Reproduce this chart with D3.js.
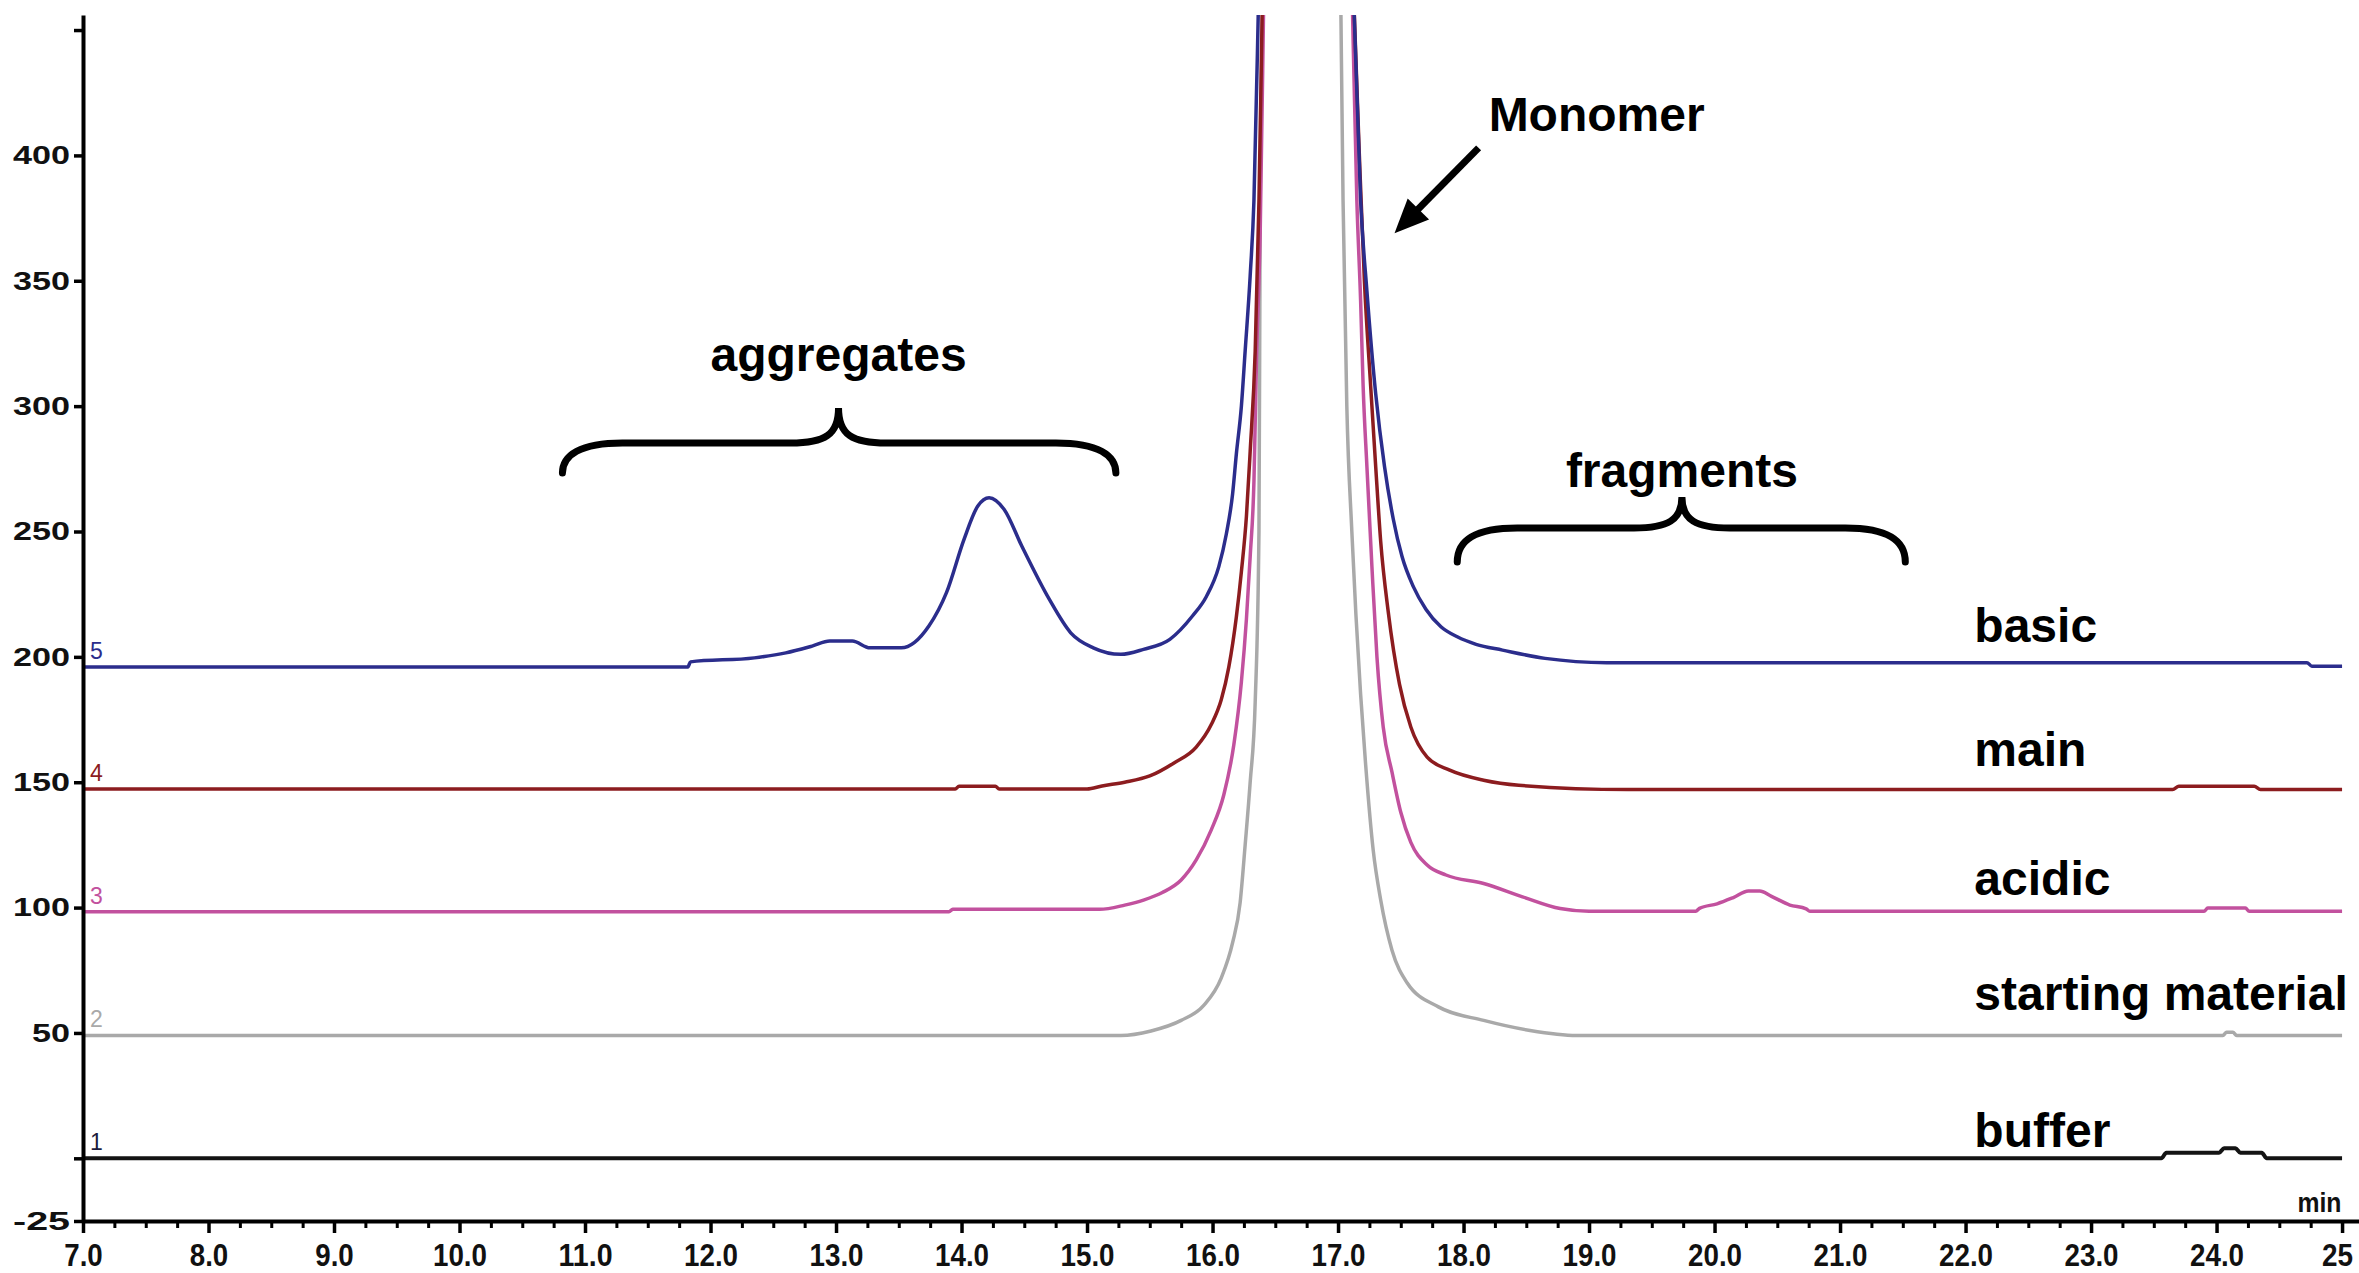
<!DOCTYPE html>
<html>
<head>
<meta charset="utf-8">
<script src="https://cdn.jsdelivr.net/npm/d3@7"></script>
<style>
  body { margin: 0; background: #fff; }
  text { font-family: "Liberation Sans", Arial, sans-serif; }
</style>
</head>
<body>
<div id="container"></div>
<script>
const width = 2359, height = 1273;

// chromatogram traces, [retention time (min), signal]
const buffer = [[7,0],[23.56,0],[23.6,2.2],[24.02,2.2],[24.06,4],[24.15,4],[24.19,2.2],[24.36,2.2],[24.4,0],[25,0]];

const startingMaterial = [[7,49],[15.27,49],[15.51,50.8],[15.75,55],[15.93,61],[16.07,72],[16.16,86],[16.22,102],[16.26,125],[16.30,150],
    [16.34,182],[16.37,250],[16.38,382],[16.40,470],[16.71,1500],[17.02,470],[17.04,382],[17.07,300],[17.11,250],[17.18,185],[17.22,157],
    [17.28,123],[17.34,103],[17.43,83],[17.55,70],[17.80,60.4],[18.16,55],[18.53,51],[18.9,49],[24.05,49],[24.08,50.3],[24.13,50.3],[24.16,49],[25,49]];

const acidic = [[7,98.3],[13.9,98.3],[13.93,99.3],[15.1,99.3],[15.3,101],[15.45,103],[15.6,106],[15.75,111],[15.87,119],[15.99,131],[16.09,145],
    [16.17,165],[16.23,190],[16.27,215],[16.30,240],[16.33,270],[16.35,318],[16.38,370],[16.41,470],[16.76,1500],[17.11,470],[17.15,382],
    [17.18,342],[17.20,308],[17.23,276],[17.27,236],[17.31,200],[17.36,172],[17.43,154],[17.50,138],[17.58,126],[17.71,117],[17.86,113],
    [18.16,109.6],[18.47,104.3],[18.77,99.6],[19.0,98.5],[19.85,98.5],[19.88,99.7],[20.02,101.5],[20.15,104],[20.27,106.6],[20.36,106.6],
    [20.45,104.6],[20.6,101],[20.73,99.5],[20.76,98.5],[23.9,98.5],[23.93,99.8],[24.23,99.8],[24.26,98.5],[25,98.5]];

const main = [[7,147.3],[13.95,147.3],[13.98,148.4],[14.27,148.4],[14.3,147.3],[15.0,147.3],[15.12,148.5],[15.3,150],[15.5,152.5],[15.69,157.6],
    [15.87,164],[15.99,173],[16.07,183],[16.13,196],[16.19,216],[16.23,234],[16.27,256],[16.30,282],[16.34,322],[16.37,382],[16.40,470],
    [16.76,1500],[17.12,470],[17.17,400],[17.21,350],[17.26,308],[17.30,276],[17.34,246],[17.40,218],[17.49,189],[17.58,172],[17.71,160],
    [17.89,154.8],[18.16,150.8],[18.44,148.8],[19.31,147.1],[23.65,147.1],[23.7,148.4],[24.3,148.4],[24.35,147.1],[25,147.1]];

const basic = [[7,196],[11.82,196],[11.84,198],[12.35,199.6],[12.6,201.6],[12.81,204.3],[12.95,206.3],[13.13,206.3],[13.27,203.6],[13.52,203.6],
    [13.74,212.3],[13.88,225.6],[14.02,246.9],[14.13,260.2],[14.22,263.5],[14.34,258.8],[14.48,244.2],[14.7,222.9],[14.87,209.6],[15.05,203.6],
    [15.27,201],[15.45,203],[15.66,207],[15.84,216.3],[15.95,224],[16.05,236],[16.11,249],[16.16,265],[16.19,281],[16.23,300],[16.26,322],
    [16.30,352],[16.33,382],[16.37,470],[16.75,1500],[17.12,470],[17.18,382],[17.23,346],[17.30,305],[17.37,276],[17.44,255],[17.51,240],
    [17.60,228],[17.70,219],[17.82,212],[17.95,208],[18.10,205],[18.31,202.7],[18.65,199.4],[19.14,197.7],[24.72,197.7],[24.76,196.3],[25,196.3]];

const seriesNames = ["buffer", "starting material", "acidic", "main", "basic"];
const seriesNums = ["1", "2", "3", "4", "5"];
const seriesBase = [0, 49, 98.3, 147.3, 196];
const seriesLabelV = [4.5, 59, 105, 156.5, 206];
const seriesColors = ["#141414", "#a9a9a9", "#c2519e", "#8c1c1f", "#2b2d8c"];

const xTicks = [7,8,9,10,11,12,13,14,15,16,17,18,19,20,21,22,23,24,25];
const xTickLabels = ["7.0","8.0","9.0","10.0","11.0","12.0","13.0","14.0","15.0","16.0","17.0","18.0","19.0","20.0","21.0","22.0","23.0","24.0","25"];
const yTicks = [-25, 0, 50, 100, 150, 200, 250, 300, 350, 400, 450];
const yTickLabels = ["-25", "", "50", "100", "150", "200", "250", "300", "350", "400", ""];

let svg = d3.select("#container").append("svg")
    .attr("width", width)
    .attr("height", height)
    .style("background-color", "white")

let x = d3.scaleLinear().domain([7, 25.135]).range([83, 2359]);
let y = d3.scaleLinear().domain([-25, 456]).range([1221, 15]);

svg.append("clipPath").attr("id", "plotClip")
  .append("rect")
    .attr("x", x(7))
    .attr("y", y(456))
    .attr("width", x(25.135) - x(7))
    .attr("height", y(-25) - y(456))

// traces
let traces = [buffer, startingMaterial, acidic, main, basic];
let line = d3.line()
    .x(d => x(d[0]))
    .y(d => y(d[1]))
    .curve(d3.curveMonotoneX)

svg.append("g").attr("clip-path", "url(#plotClip)")
  .selectAll("path").data(traces).enter()
  .append("path")
    .attr("d", line)
    .attr("fill", "none")
    .attr("stroke", (d, i) => seriesColors[i])
    .attr("stroke-width", (d, i) => i == 0 ? 4 : 3.5)
    .attr("stroke-linejoin", "round")

// trace numbers next to the y axis
svg.append("g").selectAll("text").data(seriesNums).enter()
  .append("text")
    .attr("x", x(7) + 7)
    .attr("y", (d, i) => y(seriesBase[i]) - 8)
    .attr("font-size", 23)
    .attr("fill", (d, i) => i == 0 ? "#1c1c3c" : seriesColors[i])
    .text(d => d)

// axes
let xAxis = svg.append("g")
    .attr("transform", "translate(0," + y(-25) + ")")
    .call(d3.axisBottom(x).tickValues(xTicks).tickSize(12).tickSizeOuter(0).tickPadding(10)
        .tickFormat((d, i) => xTickLabels[i]))
xAxis.select(".domain").attr("stroke-width", 4)
xAxis.selectAll(".tick line").attr("stroke-width", 3.5)
xAxis.selectAll(".tick text")
    .attr("font-size", 32)
    .attr("font-weight", "bold")
    .attr("fill", "#111")
    .attr("dx", (d, i) => i == xTicks.length - 1 ? -5 : 0)
    .attr("textLength", (d, i) => xTickLabels[i].replace(".", "").length * 15.5 + (xTickLabels[i].includes(".") ? 7.5 : 0))
    .attr("lengthAdjust", "spacingAndGlyphs")

let minorTicks = d3.range(7, 25.14, 0.25).filter(t => Math.abs(t - Math.round(t)) > 0.01);
svg.append("g")
    .attr("transform", "translate(0," + y(-25) + ")")
    .call(d3.axisBottom(x).tickValues(minorTicks).tickSize(7).tickSizeOuter(0).tickFormat(""))
    .call(g => g.select(".domain").remove())
    .selectAll(".tick line").attr("stroke-width", 3)

let yAxis = svg.append("g")
    .attr("transform", "translate(" + x(7) + ",0)")
    .call(d3.axisLeft(y).tickValues(yTicks).tickSize(9).tickSizeOuter(0).tickPadding(4)
        .tickFormat((d, i) => yTickLabels[i]))
yAxis.select(".domain").attr("stroke-width", 4)
yAxis.selectAll(".tick line").attr("stroke-width", 3.5)
yAxis.selectAll(".tick text")
    .attr("font-size", 26)
    .attr("font-weight", "bold")
    .attr("fill", "#111")
    .attr("textLength", (d, i) => yTickLabels[i].length * 19)
    .attr("lengthAdjust", "spacingAndGlyphs")

svg.append("text")
    .attr("x", x(24.82))
    .attr("y", y(-25) - 9)
    .attr("text-anchor", "middle")
    .attr("font-size", 28)
    .attr("font-weight", "bold")
    .attr("textLength", 44)
    .attr("lengthAdjust", "spacingAndGlyphs")
    .attr("fill", "#111")
    .text("min")

// series names on the right
svg.append("g").selectAll("text").data(seriesNames).enter()
  .append("text")
    .attr("x", x(22.07))
    .attr("y", (d, i) => y(seriesLabelV[i]))
    .attr("font-size", 48)
    .attr("font-weight", "bold")
    .attr("fill", "#000")
    .text(d => d)

// braces over the aggregate and fragment regions
let braces = [
    {label: "aggregates", t0: 10.82, t1: 15.23, tc: 13.02, vEnd: 273.3, vBar: 285.3, vTip: 299.3, vText: 314},
    {label: "fragments", t0: 17.95, t1: 21.52, tc: 19.74, vEnd: 237.8, vBar: 251.4, vTip: 263.8, vText: 267.8}
];

function bracePath(b) {
    let x0 = x(b.t0), x1 = x(b.t1), xc = x(b.tc);
    let yb = y(b.vEnd), yh = y(b.vBar), yt = y(b.vTip);
    return "M" + x0 + "," + yb +
        " C" + x0 + "," + (yh + 12) + " " + (x0 + 18) + "," + yh + " " + (x0 + 60) + "," + yh +
        " L" + (xc - 48) + "," + yh +
        " C" + (xc - 14) + "," + yh + " " + xc + "," + (yh - 8) + " " + xc + "," + yt +
        " C" + xc + "," + (yh - 8) + " " + (xc + 14) + "," + yh + " " + (xc + 48) + "," + yh +
        " L" + (x1 - 60) + "," + yh +
        " C" + (x1 - 18) + "," + yh + " " + x1 + "," + (yh + 12) + " " + x1 + "," + yb;
}

let braceGroup = svg.append("g").selectAll("g").data(braces).enter().append("g")
braceGroup.append("path")
    .attr("d", bracePath)
    .attr("fill", "none")
    .attr("stroke", "#000")
    .attr("stroke-width", 7)
    .attr("stroke-linecap", "round")
braceGroup.append("text")
    .attr("x", d => x(d.tc))
    .attr("y", d => y(d.vText))
    .attr("text-anchor", "middle")
    .attr("font-size", 48)
    .attr("font-weight", "bold")
    .text(d => d.label)

// monomer label and arrow
let arrow = {t0: 18.12, v0: 403, t1: 17.45, v1: 369};
let ax0 = x(arrow.t0), ay0 = y(arrow.v0), ax1 = x(arrow.t1), ay1 = y(arrow.v1);
let ang = Math.atan2(ay1 - ay0, ax1 - ax0);
let headLen = 34, headW = 15;
svg.append("line")
    .attr("x1", ax0).attr("y1", ay0)
    .attr("x2", ax1 - Math.cos(ang) * headLen * 0.8)
    .attr("y2", ay1 - Math.sin(ang) * headLen * 0.8)
    .attr("stroke", "#000")
    .attr("stroke-width", 7)
let bx = ax1 - Math.cos(ang) * headLen, by = ay1 - Math.sin(ang) * headLen;
svg.append("polygon")
    .attr("points", [
        [ax1, ay1],
        [bx + Math.sin(ang) * headW, by - Math.cos(ang) * headW],
        [bx - Math.sin(ang) * headW, by + Math.cos(ang) * headW]
    ].map(p => p.join(",")).join(" "))
    .attr("fill", "#000")

svg.append("text")
    .attr("x", x(18.2))
    .attr("y", y(409.8))
    .attr("font-size", 48)
    .attr("font-weight", "bold")
    .text("Monomer")
</script>
</body>
</html>
